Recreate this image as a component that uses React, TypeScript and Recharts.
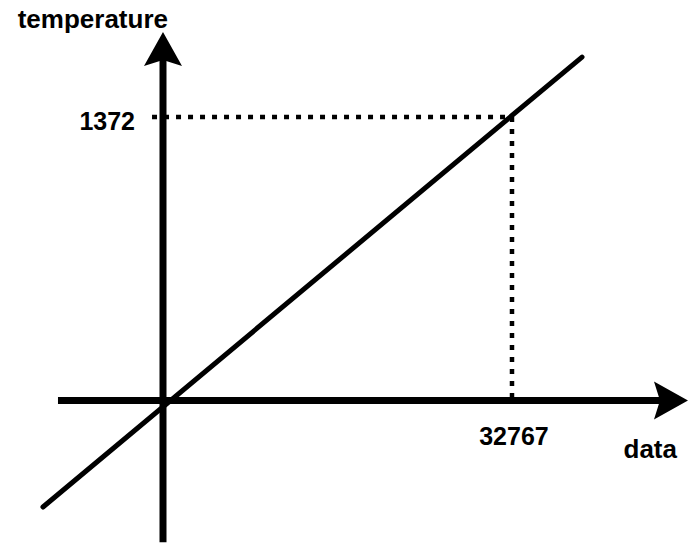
import { LineChart, Line, XAxis, YAxis, ReferenceLine } from "recharts";

// 変換直線: data -> temperature
const lineX = [-11270, 39340];
const lineY = [-515, 1662];
const lineData = lineX.map((x, i) => ({ x, y: lineY[i] }));

// 軸の範囲 (矢印の先端まで)
const xAxisRange = [-9860, 49290];
const yAxisRange = [-685, 1783];

// 注目点
const pointX = 32767;
const pointY = 1372;
const guideStartX = -1030;

const xLabel = "data";
const yLabel = "temperature";

const FONT = "'Liberation Sans', Arial, sans-serif";

const arrowShape =
  (text: string, dx: number, dy: number) =>
  (p: any) => {
    const { x1, y1, x2, y2 } = p;
    const len = Math.hypot(x2 - x1, y2 - y1) || 1;
    const ux = (x2 - x1) / len;
    const uy = (y2 - y1) / len;
    const nx = -uy;
    const ny = ux;
    const head = 34;
    const half = 19;
    const bx = x2 - ux * head;
    const by = y2 - uy * head;
    const notchX = x2 - ux * (head - 6);
    const notchY = y2 - uy * (head - 6);
    const pts = [
      [x2, y2],
      [bx + nx * half, by + ny * half],
      [notchX, notchY],
      [bx - nx * half, by - ny * half],
    ]
      .map((q) => q.join(","))
      .join(" ");
    return (
      <g>
        <line x1={x1} y1={y1} x2={x2 - ux * 20} y2={y2 - uy * 20} stroke="#000" strokeWidth={7} />
        <polygon points={pts} fill="#000" />
        <text
          x={x2 + dx}
          y={y2 + dy}
          textAnchor="end"
          fontFamily={FONT}
          fontWeight="bold"
          fontSize={26}
          fill="#000"
        >
          {text}
        </text>
      </g>
    );
  };

const guideShape =
  (text: string, useStart: boolean, dx: number, dy: number, anchor: "end" | "middle") =>
  (p: any) => {
    const { x1, y1, x2, y2 } = p;
    const ax = useStart ? x1 : x2;
    const ay = useStart ? y1 : y2;
    return (
      <g>
        <line x1={x1} y1={y1} x2={x2} y2={y2} stroke="#000" strokeWidth={4.5} strokeDasharray="5 7" />
        <text
          x={ax + dx}
          y={ay + dy}
          textAnchor={anchor}
          fontFamily={FONT}
          fontWeight="bold"
          fontSize={25}
          fill="#000"
        >
          {text}
        </text>
      </g>
    );
  };

export default function App() {
  return (
    <div style={{ position: "absolute", left: 0, top: 0, background: "#fff" }}>
      <LineChart width={689} height={544} data={lineData} margin={{ top: 0, right: 0, bottom: 0, left: 0 }}>
        <XAxis dataKey="x" type="number" domain={[-15304, 49386]} allowDataOverflow hide />
        <YAxis type="number" domain={[-694, 1938]} allowDataOverflow hide />
        <ReferenceLine
          segment={[
            { x: guideStartX, y: pointY },
            { x: pointX, y: pointY },
          ]}
          shape={guideShape(String(pointY), true, -17, 13, "end")}
        />
        <ReferenceLine
          segment={[
            { x: pointX, y: pointY },
            { x: pointX, y: 0 },
          ]}
          shape={guideShape(String(pointX), false, 2, 44.5, "middle")}
        />
        <ReferenceLine
          segment={[
            { x: xAxisRange[0], y: 0 },
            { x: xAxisRange[1], y: 0 },
          ]}
          shape={arrowShape(xLabel, -11, 57.5)}
        />
        <ReferenceLine
          segment={[
            { x: 0, y: yAxisRange[0] },
            { x: 0, y: yAxisRange[1] },
          ]}
          shape={arrowShape(yLabel, 5, -4)}
        />
        <Line
          dataKey="y"
          stroke="#000"
          strokeWidth={5}
          strokeLinecap="round"
          dot={false}
          activeDot={false}
          isAnimationActive={false}
        />
      </LineChart>
    </div>
  );
}
